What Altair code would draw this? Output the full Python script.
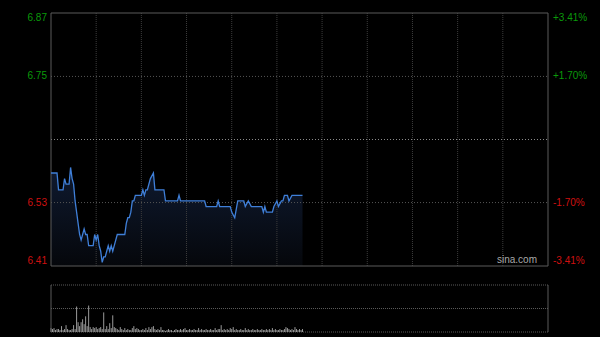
import altair as alt
import pandas as pd

# ---------------- data ----------------
PREV_CLOSE = 6.64
PCT_LEVELS = [3.41, 1.70, -1.70, -3.41]
PRICE_LABELS = ["6.87", "6.75", "6.53", "6.41"]
PCT_LABELS = ["+3.41%", "+1.70%", "-1.70%", "-3.41%"]
SESSION_MIN = 330
GRID_MIN = [30, 60, 90, 120, 150, 180, 210, 240, 270, 300]

LINE_MIN = [0, 4, 5, 8, 9, 10, 12, 13, 14, 15, 16, 17, 18, 19, 20, 21, 22, 23, 24, 25,
            28, 29, 30, 31, 32, 33, 34, 35, 36, 37, 38, 39, 40, 41, 42, 44, 49, 50, 51, 52,
            53, 54, 55, 56, 60, 61, 62, 63, 64, 66, 68, 69, 75, 76, 84, 85, 86, 102, 103, 110,
            111, 112, 119, 120, 122, 124, 128, 129, 131, 133, 140, 141, 142, 143, 147, 148, 150, 151, 153, 154,
            155, 157, 158, 160, 167]
LINE_PRICE = [6.58, 6.58, 6.55, 6.55, 6.57, 6.56, 6.56, 6.59, 6.57, 6.56, 6.53, 6.51, 6.49, 6.47, 6.46, 6.47, 6.48, 6.47, 6.47, 6.45,
              6.45, 6.47, 6.46, 6.47, 6.45, 6.44, 6.42, 6.43, 6.43, 6.44, 6.45, 6.44, 6.45, 6.44, 6.45, 6.47, 6.47, 6.49, 6.50, 6.50,
              6.51, 6.53, 6.53, 6.54, 6.54, 6.55, 6.54, 6.55, 6.55, 6.57, 6.58, 6.55, 6.55, 6.53, 6.53, 6.54, 6.53, 6.53, 6.52, 6.52,
              6.53, 6.52, 6.52, 6.51, 6.50, 6.53, 6.53, 6.52, 6.53, 6.52, 6.52, 6.51, 6.52, 6.51, 6.51, 6.52, 6.53, 6.52, 6.53, 6.53,
              6.54, 6.54, 6.53, 6.54, 6.54]

VOL = [100, 75, 100, 50, 75, 75, 50, 150, 50, 75,
       175, 75, 50, 50, 75, 175, 75, 650, 250, 150,
       250, 325, 200, 400, 150, 675, 125, 75, 125, 100,
       125, 75, 100, 125, 75, 500, 75, 150, 75, 225,
       100, 425, 125, 100, 75, 50, 125, 75, 50, 100,
       50, 75, 50, 50, 100, 150, 75, 100, 75, 50,
       50, 75, 50, 100, 50, 125, 75, 125, 150, 75,
       50, 75, 50, 125, 50, 50, 25, 50, 75, 50,
       50, 25, 50, 75, 50, 50, 75, 50, 75, 100,
       50, 50, 75, 50, 50, 75, 50, 50, 100, 50,
       75, 50, 50, 75, 50, 50, 75, 50, 50, 100,
       50, 75, 75, 175, 50, 75, 50, 75, 50, 100,
       75, 125, 50, 75, 50, 50, 75, 50, 50, 100,
       50, 75, 50, 50, 75, 50, 50, 75, 50, 50,
       75, 50, 50, 75, 50, 75, 50, 100, 50, 75,
       50, 50, 75, 50, 50, 75, 125, 100, 75, 50,
       75, 50, 125, 75, 50, 75, 50, 75]
VOL_MAX = 1200

# ---------------- layout ----------------
W, H_MAIN, GAP, H_VOL = 497, 253, 19, 47
H = H_MAIN + GAP + H_VOL
FONT = "Liberation Sans"
GREEN = "#0a9a0a"
RED = "#d01010"

levels = [PREV_CLOSE * (1 + p / 100) for p in PCT_LEVELS]
top, bot = levels[0], levels[-1]

xs = alt.Scale(domain=[0, SESSION_MIN], nice=False, zero=False)
ps = alt.Scale(domain=[bot, top], range=[H_MAIN, 0], nice=False, zero=False)
vs = alt.Scale(domain=[0, VOL_MAX], range=[H, H_MAIN + GAP], nice=False, zero=False)

line_df = pd.DataFrame({"m": LINE_MIN, "p": LINE_PRICE, "b": bot})
vol_df = pd.DataFrame({"m": list(range(len(VOL))), "v": VOL, "z": 0})
vgrid_df = pd.DataFrame({"m": GRID_MIN, "t": top, "b": bot})
hgrid_df = pd.DataFrame({"p": [levels[1], levels[2]], "x0": 0, "x1": SESSION_MIN})
prev_df = pd.DataFrame({"p": [PREV_CLOSE], "x0": 0, "x1": SESSION_MIN})
frame_df = pd.DataFrame({"x0": [0], "x1": [SESSION_MIN], "t": [top], "b": [bot]})
vframe_h = pd.DataFrame({"v": [0, VOL_MAX / 2, VOL_MAX], "x0": 0, "x1": SESSION_MIN})
vframe_v = pd.DataFrame({"m": [0, SESSION_MIN], "z": 0, "t": VOL_MAX})

lab_df = pd.DataFrame({"p": levels, "price": PRICE_LABELS, "pct": PCT_LABELS})

X = lambda f: alt.X(f, type="quantitative", scale=xs, axis=None)
YP = lambda f: alt.Y(f, type="quantitative", scale=ps, axis=None)
YV = lambda f: alt.Y(f, type="quantitative", scale=vs, axis=None)

area = alt.Chart(line_df).mark_area(
    color=alt.Gradient(gradient="linear",
                       stops=[alt.GradientStop(color="#0f1a30", offset=0),
                              alt.GradientStop(color="#05070b", offset=1)],
                       x1=1, x2=1, y1=0, y2=1)
).encode(x=X("m"), y=YP("p"), y2="b")

vgrid = alt.Chart(vgrid_df).mark_rule(color="#3c3c3c", strokeDash=[1, 1], strokeWidth=1).encode(
    x=X("m"), y=YP("t"), y2="b")
hgrid = alt.Chart(hgrid_df).mark_rule(color="#555555", strokeDash=[1, 2], strokeWidth=1).encode(
    x=X("x0"), x2="x1", y=YP("p"))
prevline = alt.Chart(prev_df).mark_rule(color="#8a8a8a", strokeDash=[1, 2], strokeWidth=1).encode(
    x=X("x0"), x2="x1", y=YP("p"))
frame = alt.Chart(frame_df).mark_rect(fillOpacity=0, stroke="#5a5a5a", strokeWidth=1).encode(
    x=X("x0"), x2="x1", y=YP("t"), y2="b")

line = alt.Chart(line_df).mark_line(color="#3f7fd8", strokeWidth=1.3, interpolate="linear").encode(
    x=X("m"), y=YP("p"))

def labels(rows, color, baseline):
    d = lab_df.iloc[rows]
    left = alt.Chart(d).mark_text(align="right", baseline=baseline, color=color,
                                  font=FONT, fontSize=10).encode(
        x=alt.value(-4), y=YP("p"), text="price")
    right = alt.Chart(d).mark_text(align="left", baseline=baseline, color=color,
                                   font=FONT, fontSize=10).encode(
        x=alt.value(W + 5), y=YP("p"), text="pct")
    return [left, right]

lbls = (labels([0], GREEN, "top") + labels([1], GREEN, "middle")
        + labels([2], RED, "middle") + labels([3], RED, "bottom"))

sina = alt.Chart(pd.DataFrame({"t": ["sina.com"]})).mark_text(
    align="right", baseline="bottom", color="#a8a8a8", font=FONT, fontSize=10).encode(
    x=alt.value(W - 11), y=alt.value(H_MAIN - 1), text="t")

vbars = alt.Chart(vol_df).mark_rule(color="#9a9a9a", strokeWidth=1).encode(
    x=X("m"), y=YV("v"), y2="z")
vfh = alt.Chart(vframe_h).mark_rule(color="#5a5a5a", strokeDash=[1, 1], strokeWidth=1).encode(
    x=X("x0"), x2="x1", y=YV("v"))
vfv = alt.Chart(vframe_v).mark_rule(color="#5a5a5a", strokeWidth=1).encode(
    x=X("m"), y=YV("z"), y2="t")

chart = alt.layer(area, vgrid, hgrid, prevline, frame, line, *lbls, sina, vfh, vbars, vfv).resolve_scale(
    y="independent"
).properties(
    width=W, height=H,
    background="#000000",
    padding={"left": 51, "top": 13, "right": 52, "bottom": 5},
    autosize=alt.AutoSizeParams(type="none"),
).configure_view(stroke=None)

chart.save("out.html", embed_options={"renderer": "svg", "actions": False})
